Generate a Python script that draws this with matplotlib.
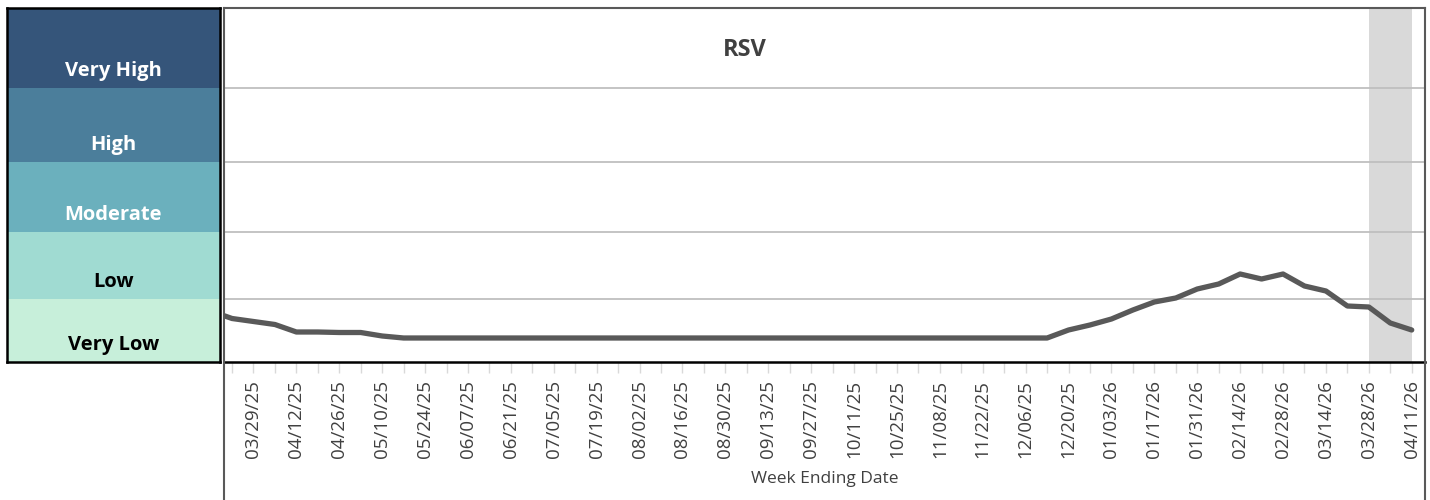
#!/usr/bin/env python3
# RSV activity level chart
import numpy as np
import pandas as pd
import matplotlib
matplotlib.use('Agg')
import matplotlib.pyplot as plt
import matplotlib.dates as mdates
from matplotlib.lines import Line2D

plt.rcParams['font.family'] = ['Open Sans', 'DejaVu Sans']

# levels, bottom to top
level_names = ['Very Low', 'Low', 'Moderate', 'High', 'Very High']
level_bounds = [0, 6.3, 13.0, 20.0, 27.4, 35.4]
level_colors = ['#C7EFDA', '#A0DBD2', '#6BB0BD', '#4B7E9B', '#35557A']
level_text = ['black', 'black', 'white', 'white', 'white']

# weekly values, week ending 03/15/25 .. 04/11/26
week_start = '2025-03-15'
week_end = '2026-04-11'
rsv_values = [5.1, 4.35, 4.05, 3.75, 3.0, 3.0, 2.95, 2.95, 2.6, 2.4,
              2.4, 2.4, 2.4, 2.4, 2.4, 2.4, 2.4, 2.4, 2.4, 2.4,
              2.4, 2.4, 2.4, 2.4, 2.4, 2.4, 2.4, 2.4, 2.4, 2.4,
              2.4, 2.4, 2.4, 2.4, 2.4, 2.4, 2.4, 2.4, 2.4, 2.4,
              3.2, 3.7, 4.3, 5.2, 6.0, 6.4, 7.3, 7.8, 8.8, 8.3,
              8.8, 7.6, 7.1, 5.6, 5.5, 3.9, 3.2]
shade_from = '2026-03-28'
shade_to = '2026-04-11'


def main():
    weeks = pd.date_range(week_start, week_end, freq='7D')

    fig = plt.figure(figsize=(14.3, 5.0), dpi=100)
    W, H = 1430.0, 500.0

    # left legend panel
    ax0 = fig.add_axes([7 / W, 1 - 362 / H, 213 / W, 354 / H])
    for i, name in enumerate(level_names):
        lo, hi = level_bounds[i], level_bounds[i + 1]
        ax0.axhspan(lo, hi, color=level_colors[i], lw=0)
        ax0.text(0.5, lo + 1.7, name, ha='center', va='center',
                 fontsize=14.5, fontweight='bold', color=level_text[i])
    ax0.set_ylim(level_bounds[0], level_bounds[-1])
    ax0.set_xlim(0, 1)
    ax0.set_xticks([])
    ax0.set_yticks([])
    for s in ax0.spines.values():
        s.set_linewidth(1.8)
        s.set_color('black')

    # main chart
    ax = fig.add_axes([224 / W, 1 - 362 / H, 1201 / W, 354 / H])
    for b in level_bounds[1:-1]:
        ax.axhline(b, color='#BFBFBF', lw=1.3, zorder=1)
    ax.axvspan(pd.Timestamp(shade_from), pd.Timestamp(shade_to),
               color='#D9D9D9', lw=0, zorder=0.5)
    ax.plot(weeks, rsv_values, color='#595959', lw=3.8,
            solid_capstyle='round', solid_joinstyle='round', zorder=3)

    ax.set_xlim(pd.Timestamp('2025-03-19 09:00'), pd.Timestamp('2026-04-15 08:00'))
    ax.set_ylim(level_bounds[0], level_bounds[-1])
    ax.set_yticks([])

    ax.set_xticks(weeks[2::2])
    ax.set_xticks(weeks[1::2], minor=True)
    ax.xaxis.set_major_formatter(mdates.DateFormatter('%m/%d/%y'))
    ax.tick_params(axis='x', which='both', length=8, width=1, color='#D9D9D9')
    ax.tick_params(axis='x', which='major', labelrotation=90, labelsize=13.5,
                   labelcolor='#404040', pad=5)
    for lbl in ax.get_xticklabels():
        lbl.set_va('top')

    ax.set_xlabel('Week Ending Date', fontsize=12.5, color='#404040', labelpad=9)
    ax.text(0.434, 0.881, 'RSV', transform=ax.transAxes, ha='center', va='center',
            fontsize=17, fontweight='bold', color='#404040')

    ax.spines['bottom'].set_color('black')
    ax.spines['bottom'].set_linewidth(1.8)
    ax.spines['top'].set_color('#595959')
    ax.spines['top'].set_linewidth(1.5)
    for k in ('left', 'right'):
        ax.spines[k].set_visible(False)

    # chart frame lines running down past the labels
    fig.add_artist(Line2D([224 / W, 224 / W], [0, 1 - 8 / H], color='#595959', lw=1.5))
    fig.add_artist(Line2D([1425 / W, 1425 / W], [0, 1 - 8 / H], color='#595959', lw=1.5))

    fig.savefig('out.png', dpi=100)


if __name__ == "__main__":
    main()
